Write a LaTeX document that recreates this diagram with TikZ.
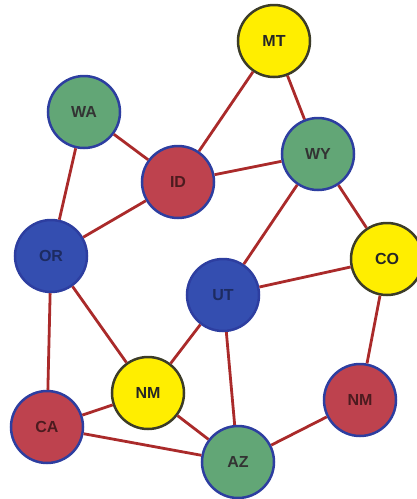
\documentclass[tikz,border=0pt]{standalone}
\usepackage{fontspec}
\setmainfont{Liberation Sans}
\usepackage{tikz}
\usetikzlibrary{positioning}
\definecolor{ycol}{RGB}{255,238,0}
\definecolor{gcol}{RGB}{98,166,118}
\definecolor{rcol}{RGB}{190,66,78}
\definecolor{bcol}{RGB}{52,78,176}
\definecolor{rimb}{RGB}{45,62,160}
\definecolor{rimy}{RGB}{60,60,40}
\definecolor{edgecol}{RGB}{170,42,42}
\begin{document}
\begin{tikzpicture}[
    x=1pt, y={(0pt,-1pt)},
    state/.style={circle, minimum size=72pt, inner sep=0pt, line width=2.5pt, font=\bfseries\fontsize{16}{16}\selectfont},
    ystate/.style={state, draw=rimy, fill=ycol, text=black!85},
    gstate/.style={state, draw=rimb, fill=gcol, text=black!80},
    rstate/.style={state, draw=rimb, fill=rcol, text=black!60!rcol},
    bstate/.style={state, draw=rimb, fill=bcol, text=black!45!bcol},
    border/.style={draw=edgecol, line width=2.8pt}
]
\useasboundingbox (0,0) rectangle (417,499);
\node[ystate] (mt) at (274,41) {MT};
\node[gstate] (wa) at (84,112) {WA};
\node[rstate] (id) at (178,182) {ID};
\node[gstate] (wy) at (318,154) {WY};
\node[bstate] (or) at (51,256) {OR};
\node[ystate] (co) at (387,259) {CO};
\node[bstate] (ut) at (223,295) {UT};
\node[ystate] (nmy) at (148,393) {NM};
\node[rstate] (nmr) at (360,400) {NM};
\node[rstate] (ca) at (47,427) {CA};
\node[gstate] (az) at (238,462) {AZ};
\draw[border] (mt) -- (id);
\draw[border] (mt) -- (wy);
\draw[border] (wa) -- (id);
\draw[border] (wa) -- (or);
\draw[border] (id) -- (or);
\draw[border] (id) -- (wy);
\draw[border] (wy) -- (ut);
\draw[border] (wy) -- (co);
\draw[border] (or) -- (nmy);
\draw[border] (or) -- (ca);
\draw[border] (ut) -- (co);
\draw[border] (ut) -- (nmy);
\draw[border] (ut) -- (az);
\draw[border] (co) -- (nmr);
\draw[border] (nmy) -- (ca);
\draw[border] (nmy) -- (az);
\draw[border] (nmr) -- (az);
\draw[border] (ca) -- (az);
\end{tikzpicture}
\end{document}
